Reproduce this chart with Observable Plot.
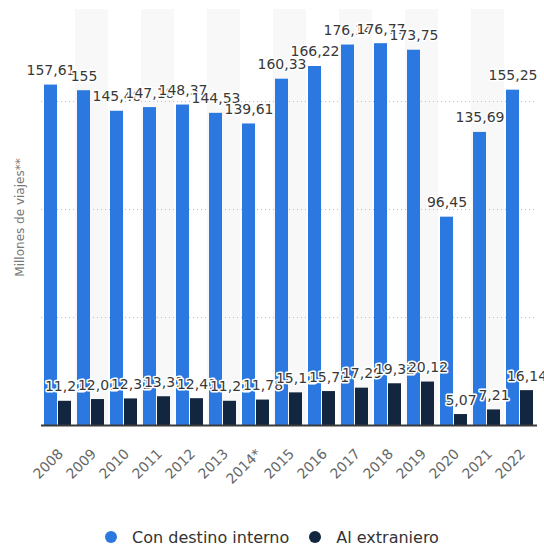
<!DOCTYPE html>
<html>
<head>
<meta charset="utf-8">
<script src="https://cdn.jsdelivr.net/npm/d3@7"></script>
<script src="https://cdn.jsdelivr.net/npm/@observablehq/plot@0.6"></script>
<style>
  body { margin: 0; background: #fff; font-family: "DejaVu Sans", sans-serif; }
  #legend { display: flex; justify-content: center; align-items: center; gap: 20px; font-size: 16px; color: #333; height: 24px; margin-top: 20px; }
  #legend span.item { display: flex; align-items: center; }
  #legend span.dot { width: 12px; height: 12px; border-radius: 50%; display: inline-block; margin-right: 15px; }
</style>
</head>
<body>
<div id="chart"></div>
<div id="legend"></div>
<script>
const years = ["2008","2009","2010","2011","2012","2013","2014*","2015","2016","2017","2018","2019","2020","2021","2022"];
const interno = [157.61, 155, 145.48, 147.18, 148.37, 144.53, 139.61, 160.33, 166.22, 176.14, 176.77, 173.75, 96.45, 135.69, 155.25];
const extranjero = [11.21, 12.01, 12.31, 13.31, 12.41, 11.21, 11.78, 15.11, 15.71, 17.29, 19.32, 20.12, 5.07, 7.21, 16.14];
const seriesNames = ["Con destino interno", "Al extraniero"];
const seriesColors = ["#2a78e0", "#12263f"];
const gridValues = [50, 100, 150];
const yLabel = "Millones de viajes**";
const yTop = 192.6;
const bandYears = years.filter((d, i) => i % 2 === 1);

const rows = years.map((year, i) => ({year, interno: interno[i], extranjero: extranjero[i]}));
const fmt = v => String(v).replace(".", ",");

const labelStyle = {fill: "#383838", stroke: "white", strokeWidth: 3, fontSize: 14, lineAnchor: "bottom", textAnchor: "middle"};

const chart = Plot.plot({
  width: 544,
  height: 505,
  marginTop: 9,
  marginLeft: 41,
  marginRight: 7,
  marginBottom: 80,
  style: {fontFamily: "'DejaVu Sans', sans-serif", fontSize: "14px", color: "#666", background: "white"},
  x: {domain: years, padding: 0, axis: null},
  y: {domain: [0, yTop], axis: null},
  marks: [
    Plot.barY(bandYears, {x: d => d, y: () => yTop, fill: "#f8f8f8"}),
    Plot.ruleY(gridValues, {stroke: "#bdbdbd", strokeDasharray: "1,3"}),
    Plot.barY(rows, {x: "year", y: "interno", fill: seriesColors[0], insetLeft: 2, insetRight: 18}),
    Plot.barY(rows, {x: "year", y: "extranjero", fill: seriesColors[1], insetLeft: 16, insetRight: 4}),
    Plot.ruleY([0], {stroke: "#3a3a3a", strokeWidth: 2}),
    Plot.text(years, {x: d => d, text: d => d, frameAnchor: "bottom", rotate: -45, textAnchor: "end", lineAnchor: "middle", dx: 2, dy: 26, fontSize: 14, fill: "#666"}),
    Plot.text([yLabel], {text: d => d, frameAnchor: "left", rotate: -90, dx: -21, fontSize: 12, fill: "#777", textAnchor: "middle", lineAnchor: "middle"}),
    Plot.text(rows, {x: "year", y: "interno", text: d => fmt(d.interno), dx: -8, dy: -10, ...labelStyle}),
    Plot.text(rows, {x: "year", y: "extranjero", text: d => fmt(d.extranjero), dx: 6, dy: -10, ...labelStyle})
  ]
});
document.getElementById("chart").appendChild(chart);

const legend = document.getElementById("legend");
seriesNames.forEach((name, i) => {
  const item = document.createElement("span");
  item.className = "item";
  const dot = document.createElement("span");
  dot.className = "dot";
  dot.style.background = seriesColors[i];
  item.appendChild(dot);
  item.appendChild(document.createTextNode(name));
  legend.appendChild(item);
});
</script>
</body>
</html>
